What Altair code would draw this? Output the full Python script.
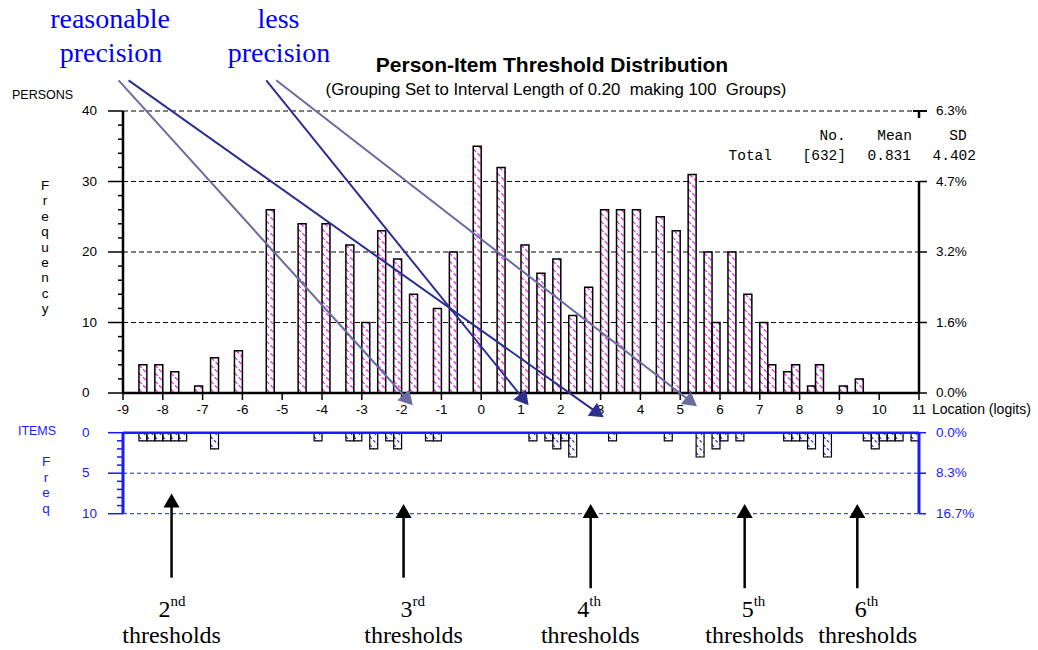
import math
import altair as alt
import numpy as np
import pandas as pd

# ---------------- data ----------------
PERSON_LOC = [-8.5, -8.1, -7.7, -7.1, -6.7, -6.1, -5.3, -4.5, -3.9, -3.3, -2.9, -2.5, -2.1, -1.7,
              -1.1, -0.7, -0.1, 0.5, 1.1, 1.5, 1.9, 2.3, 2.7, 3.1, 3.5, 3.9, 4.5, 4.9, 5.3,
              5.7, 5.9, 6.3, 6.7, 7.1, 7.3, 7.7, 7.9, 8.3, 8.5, 9.1, 9.5]
PERSON_N = [4, 4, 3, 1, 5, 6, 26, 24, 24, 21, 10, 23, 19, 14,
            12, 20, 35, 32, 21, 17, 19, 11, 15, 26, 26, 26, 25, 23, 31,
            20, 10, 20, 14, 10, 4, 3, 4, 1, 4, 1, 2]
ITEM_LOC = [-8.5, -8.3, -8.1, -7.9, -7.7, -7.5, -6.7, -4.1, -3.3, -3.1, -2.7, -2.3, -2.1, -1.3, -1.1,
            1.3, 1.7, 1.9, 2.1, 2.3, 3.3, 4.7, 5.5, 5.9, 6.1, 6.5,
            7.7, 7.9, 8.1, 8.3, 8.7, 9.7, 9.9, 10.1, 10.3, 10.5, 10.9]
ITEM_N = [1, 1, 1, 1, 1, 1, 2, 1, 1, 1, 2, 1, 2, 1, 1,
          1, 1, 2, 1, 3, 1, 1, 3, 2, 1, 1,
          1, 1, 1, 2, 3, 1, 2, 1, 1, 1, 1]
BIN_WIDTH = 0.2
N_PERSONS = 632
PERSON_MEAN = 0.831
PERSON_SD = 4.402
N_THRESHOLDS = 60

X_TICKS = list(range(-9, 12))
PERSON_MAJOR = [0, 10, 20, 30, 40]
PERSON_GRID = [10, 20, 30, 40]
PERSON_MINOR = [v for v in range(0, 41, 2) if v % 10]
RIGHT_AXIS_SEGS_A = [0, 39]
RIGHT_AXIS_SEGS_B = [30, 40]
ITEM_MAJOR = [0, 5, 10]
ITEM_GRID = [5, 10]
ITEM_MINOR = [1, 2, 3, 4, 6, 7, 8, 9]

# slanted annotation arrows (logits, person counts)
ARROW_X0 = [-9.11, -8.86, -5.40, -5.15]
ARROW_Y0 = [44.35, 44.35, 44.35, 44.35]
ARROW_X1 = [-1.72, 3.08, 1.19, 5.42]
ARROW_Y1 = [-1.74, -3.45, -1.74, -1.89]
ARROW_TONE = ["light", "dark", "dark", "light"]

# threshold arrows (logits, item frequency units)
THR_ARROW_X = [-7.78, -1.95, 2.75, 6.62, 9.45]
THR_ARROW_TIP = [7.5, 8.8, 8.8, 8.8, 8.8]
THR_ARROW_BASE = [17.9, 17.9, 19.2, 19.2, 19.2]
THR_LABEL_X = [-7.78, -1.70, 2.74, 6.87, 9.71]
THR_NUM = ["2", "3", "4", "5", "6"]
THR_SUF = ["nd", "rd", "th", "th", "th"]

# ---------------- layout ----------------
W, H = 796, 282
PAD_L, PAD_T = 123, 111
PAD_R = 1038 - PAD_L - W
PAD_B = 650 - PAD_T - H
X_MIN, X_MAX = -9, 11
Y_MAX = 40
PX_LOGIT = W / (X_MAX - X_MIN)
PX_COUNT = H / Y_MAX
ITEM_ZERO_PX = 321.7
PX_ITEM = 8.1
I_D0 = -ITEM_ZERO_PX / PX_ITEM
I_D1 = I_D0 + H / PX_ITEM
HEAD = 14.0

SANS = "Liberation Sans, Arial, sans-serif"
SERIF = "Liberation Serif, Times New Roman, serif"
MONO = "Liberation Mono, Courier New, monospace"
BLUE = "#1a1aff"
PINK = "#ff22ff"
DARK = "#2d2f8f"
LIGHT = "#6b6b9f"
TRI = "M0,0L1.15,2L-1.15,2Z"
NB = "\u00a0"

xs = alt.Scale(domain=[X_MIN, X_MAX], nice=False, zero=False)
yp = alt.Scale(domain=[0, Y_MAX], nice=False, zero=False)
yi = alt.Scale(domain=[I_D0, I_D1], reverse=True, nice=False, zero=False)


def X(f):
    return alt.X(f, type="quantitative", scale=xs, axis=None)


def YP(f):
    return alt.Y(f, type="quantitative", scale=yp, axis=None)


def YI(f):
    return alt.Y(f, type="quantitative", scale=yi, axis=None)


def one():
    return alt.Data(values=[{"k": 0}])


def txt(text, x, y, size=13.5, align="left", baseline="alphabetic", color="black",
        font=SANS, weight="normal", **kw):
    return alt.Chart(alt.Data(values=[{"t": text}])).mark_text(
        align=align, baseline=baseline, fontSize=size, font=font, color=color,
        fontWeight=weight, **kw
    ).encode(x=alt.value(x), y=alt.value(y), text="t:N")


def hatch(locs, counts, s, step, up):
    rows = []
    for loc, n in zip(locs, counts):
        lo = loc - BIN_WIDTH / 2
        if up:
            for c in np.arange(step / 2, n + s, step):
                t0 = max(0.0, (c - n) / s)
                t1 = min(1.0, c / s)
                if t1 - t0 > 1e-6:
                    rows.append(dict(x0=lo + t0 * BIN_WIDTH, y0=c - t0 * s,
                                     x1=lo + t1 * BIN_WIDTH, y1=c - t1 * s))
        else:
            for c in np.arange(-s + step / 2, n, step):
                t0 = max(0.0, -c / s)
                t1 = min(1.0, (n - c) / s)
                if t1 - t0 > 1e-6:
                    rows.append(dict(x0=lo + t0 * BIN_WIDTH, y0=c + t0 * s,
                                     x1=lo + t1 * BIN_WIDTH, y1=c + t1 * s))
    return pd.DataFrame(rows)


# ---------------- persons panel ----------------
pdf = pd.DataFrame({"loc": PERSON_LOC, "n": PERSON_N})
pdf["lo"] = pdf["loc"] - BIN_WIDTH / 2
pdf["hi"] = pdf["loc"] + BIN_WIDTH / 2
p_hatch = hatch(PERSON_LOC, PERSON_N, 8 / PX_COUNT, 8 / PX_COUNT, True)

grid = alt.Chart(pd.DataFrame({"v": PERSON_GRID})).mark_rule(
    color="black", strokeWidth=1, strokeDash=[5, 3]).encode(
    y=YP("v"), x=alt.value(0), x2=alt.value(W))
pmaj = alt.Chart(pd.DataFrame({"v": PERSON_MAJOR})).mark_rule(
    color="black", strokeWidth=1.5).encode(y=YP("v"), x=alt.value(-15), x2=alt.value(0))
pmin = alt.Chart(pd.DataFrame({"v": PERSON_MINOR})).mark_rule(
    color="black", strokeWidth=1.5).encode(y=YP("v"), x=alt.value(-5), x2=alt.value(0))
paxis = alt.Chart(pd.DataFrame({"a": [0], "b": [Y_MAX]})).mark_rule(
    color="black", strokeWidth=2.5).encode(x=alt.value(0), y=YP("a"), y2="b:Q")
raxis = alt.Chart(pd.DataFrame({"a": RIGHT_AXIS_SEGS_A, "b": RIGHT_AXIS_SEGS_B})).mark_rule(
    color="black", strokeWidth=2.5).encode(x=alt.value(W), y=YP("a"), y2="b:Q")
rtick = alt.Chart(pd.DataFrame({"v": PERSON_MAJOR})).mark_rule(
    color="black", strokeWidth=1.5).encode(y=YP("v"), x=alt.value(W), x2=alt.value(W + 8))
rtop = alt.Chart(pd.DataFrame({"v": [Y_MAX]})).mark_rule(
    color="black", strokeWidth=2).encode(y=YP("v"), x=alt.value(W - 6), x2=alt.value(W + 8))
llab = alt.Chart(pd.DataFrame({"v": PERSON_MAJOR, "lab": [str(v) for v in PERSON_MAJOR]})).mark_text(
    align="left", baseline="middle", fontSize=13.5, font=SANS, color="black").encode(
    y=YP("v"), x=alt.value(-41), text="lab:N")
rlab = alt.Chart(pd.DataFrame({"v": PERSON_MAJOR,
                               "lab": [f"{v / N_PERSONS * 100:.1f}%" for v in PERSON_MAJOR]})).mark_text(
    align="left", baseline="middle", fontSize=13.5, font=SANS, color="black").encode(
    y=YP("v"), x=alt.value(W + 17), text="lab:N")

p_fill = alt.Chart(pdf).mark_rect(fill="white").encode(
    x=X("lo"), x2="hi:Q", y=YP("n"), y2=alt.datum(0))
p_hl = alt.Chart(p_hatch).mark_rule(color=PINK, strokeWidth=1.3, strokeDash=[4, 2]).encode(
    x=X("x0"), x2="x1:Q", y=YP("y0"), y2="y1:Q")
p_out = alt.Chart(pdf).mark_rect(fill="white", fillOpacity=0, stroke="black", strokeWidth=1.5).encode(
    x=X("lo"), x2="hi:Q", y=YP("n"), y2=alt.datum(0))

xline = alt.Chart(one()).mark_rule(color="black", strokeWidth=2.5).encode(
    x=alt.value(0), x2=alt.value(W), y=alt.value(H))
xtick = alt.Chart(pd.DataFrame({"v": X_TICKS})).mark_rule(color="black", strokeWidth=1.5).encode(
    x=X("v"), y=alt.value(H), y2=alt.value(H + 7))
xlab = alt.Chart(pd.DataFrame({"v": X_TICKS, "lab": [str(v) for v in X_TICKS]})).mark_text(
    align="center", baseline="middle", fontSize=13.5, font=SANS, color="black").encode(
    x=X("v"), y=alt.value(H + 17), text="lab:N")

# slanted arrows
adf = pd.DataFrame({"x0": ARROW_X0, "y0": ARROW_Y0, "x1": ARROW_X1, "y1": ARROW_Y1, "tone": ARROW_TONE})
dxp = (adf["x1"] - adf["x0"]) * PX_LOGIT
dyp = -(adf["y1"] - adf["y0"]) * PX_COUNT
ln = np.sqrt(dxp ** 2 + dyp ** 2)
ux, uy = dxp / ln, dyp / ln
adf["xe"] = adf["x1"] - ux * HEAD * 0.7 / PX_LOGIT
adf["ye"] = adf["y1"] + uy * HEAD * 0.7 / PX_COUNT
adf["ang"] = [(math.degrees(math.atan2(a, -b)) + 360) % 360 for a, b in zip(ux, uy)]
tone_scale = alt.Scale(domain=["dark", "light"], range=[DARK, LIGHT])
a_line = alt.Chart(adf).mark_rule(strokeWidth=2).encode(
    x=X("x0"), x2="xe:Q", y=YP("y0"), y2="ye:Q",
    color=alt.Color("tone:N", scale=tone_scale, legend=None))
a_head = alt.Chart(adf).mark_point(shape=TRI, filled=True, size=196, opacity=1).encode(
    x=X("x1"), y=YP("y1"), angle=alt.Angle("ang:Q", scale=None),
    color=alt.Color("tone:N", scale=tone_scale, legend=None))

persons = alt.layer(grid, pmaj, pmin, p_fill, p_hl, p_out, paxis, raxis, rtick, rtop,
                    xline, xtick, xlab, llab, rlab, a_line, a_head)

# ---------------- items panel ----------------
idf = pd.DataFrame({"loc": ITEM_LOC, "n": ITEM_N})
idf["lo"] = idf["loc"] - BIN_WIDTH / 2
idf["hi"] = idf["loc"] + BIN_WIDTH / 2
i_hatch = hatch(ITEM_LOC, ITEM_N, 8 / PX_ITEM, 8 / PX_ITEM, False)

igrid = alt.Chart(pd.DataFrame({"v": ITEM_GRID})).mark_rule(
    color=BLUE, strokeWidth=1, strokeDash=[4, 3]).encode(y=YI("v"), x=alt.value(0), x2=alt.value(W))
imaj = alt.Chart(pd.DataFrame({"v": ITEM_MAJOR})).mark_rule(color=BLUE, strokeWidth=1.5).encode(
    y=YI("v"), x=alt.value(-15), x2=alt.value(0))
imin = alt.Chart(pd.DataFrame({"v": ITEM_MINOR})).mark_rule(color=BLUE, strokeWidth=1.5).encode(
    y=YI("v"), x=alt.value(-6), x2=alt.value(0))
i_fill = alt.Chart(idf).mark_rect(fill="white").encode(
    x=X("lo"), x2="hi:Q", y=YI("n"), y2=alt.datum(0))
i_hl = alt.Chart(i_hatch).mark_rule(color="#2a2aff", strokeWidth=1.2, strokeDash=[3, 2]).encode(
    x=X("x0"), x2="x1:Q", y=YI("y0"), y2="y1:Q")
i_out = alt.Chart(idf).mark_rect(fill="white", fillOpacity=0, stroke="black", strokeWidth=1.2).encode(
    x=X("lo"), x2="hi:Q", y=YI("n"), y2=alt.datum(0))
itop = alt.Chart(pd.DataFrame({"v": [0]})).mark_rule(color=BLUE, strokeWidth=2.5).encode(
    y=YI("v"), x=alt.value(0), x2=alt.value(W))
iaxis = alt.Chart(pd.DataFrame({"a": [0], "b": [10]})).mark_rule(color=BLUE, strokeWidth=3).encode(
    x=alt.value(0), y=YI("a"), y2="b:Q")
iraxis = alt.Chart(pd.DataFrame({"a": [0], "b": [10]})).mark_rule(color=BLUE, strokeWidth=3).encode(
    x=alt.value(W), y=YI("a"), y2="b:Q")
irtick = alt.Chart(pd.DataFrame({"v": ITEM_MAJOR})).mark_rule(color=BLUE, strokeWidth=1.5).encode(
    y=YI("v"), x=alt.value(W), x2=alt.value(W + 7))
illab = alt.Chart(pd.DataFrame({"v": ITEM_MAJOR, "lab": [str(v) for v in ITEM_MAJOR]})).mark_text(
    align="left", baseline="middle", fontSize=13.5, font=SANS, color=BLUE).encode(
    y=YI("v"), x=alt.value(-41), text="lab:N")
irlab = alt.Chart(pd.DataFrame({"v": ITEM_MAJOR,
                                "lab": [f"{v / N_THRESHOLDS * 100:.1f}%" for v in ITEM_MAJOR]})).mark_text(
    align="left", baseline="middle", fontSize=13.5, font=SANS, color=BLUE).encode(
    y=YI("v"), x=alt.value(W + 17), text="lab:N")

tdf = pd.DataFrame({"x": THR_ARROW_X, "tip": THR_ARROW_TIP, "base": THR_ARROW_BASE})
tdf["neck"] = tdf["tip"] + HEAD * 0.7 / PX_ITEM
t_line = alt.Chart(tdf).mark_rule(color="black", strokeWidth=2.5).encode(
    x=X("x"), y=YI("base"), y2="neck:Q")
t_head = alt.Chart(tdf).mark_point(shape=TRI, filled=True, size=196, opacity=1, color="black").encode(
    x=X("x"), y=YI("tip"))

items = alt.layer(igrid, imaj, imin, i_fill, i_hl, i_out, itop, iaxis, iraxis, irtick,
                  illab, irlab, t_line, t_head)

# ---------------- threshold labels ----------------
ldf = pd.DataFrame({"x": THR_LABEL_X, "num": THR_NUM, "suf": THR_SUF})
l_num = alt.Chart(ldf).mark_text(align="right", baseline="alphabetic", fontSize=24, font=SERIF,
                                 color="black", dx=-1).encode(x=X("x"), y=alt.value(506), text="num:N")
l_suf = alt.Chart(ldf).mark_text(align="left", baseline="alphabetic", fontSize=15, font=SERIF,
                                 color="black", dx=-1).encode(x=X("x"), y=alt.value(495), text="suf:N")
l_thr = alt.Chart(ldf).mark_text(align="center", baseline="alphabetic", fontSize=24, font=SERIF,
                                 color="black").encode(x=X("x"), y=alt.value(532), text=alt.value("thresholds"))

# ---------------- free texts ----------------
subtitle = f"(Grouping Set to Interval Length of 0.20 {NB}making 100 {NB}Groups)"
texts = [
    txt("Person-Item Threshold Distribution", 429, -39, size=21, align="center", weight="bold"),
    txt(subtitle, 433, -16, size=16.8, align="center"),
    txt("PERSONS", -111, -12, size=12.5),
    txt("F\nr\ne\nq\nu\ne\nn\nc\ny", -78, 68, size=13.5, align="center", baseline="top",
        lineBreak="\n", lineHeight=15.4),
    txt("Location (logits)", W + 13, H + 17, size=14, baseline="middle"),
    txt("ITEMS", -86, 320, size=12.5, align="center", baseline="middle", color=BLUE),
    txt("F\nr\ne\nq", -77, 344, size=13.5, align="center", baseline="top", color=BLUE,
        lineBreak="\n", lineHeight=15.5),
    txt("No.", 722.7, 29, size=14.5, align="right", font=MONO),
    txt("Mean", 789, 29, size=14.5, align="right", font=MONO),
    txt("SD", 843.7, 29, size=14.5, align="right", font=MONO),
    txt("Total", 605.5, 49, size=14.5, align="left", font=MONO),
    txt(f"[{N_PERSONS}]", 723, 49, size=14.5, align="right", font=MONO),
    txt(f"{PERSON_MEAN:.3f}", 788, 49, size=14.5, align="right", font=MONO),
    txt(f"{PERSON_SD:.3f}", 853, 49, size=14.5, align="right", font=MONO),
    txt("reasonable", -13, -83, size=28, align="center", font=SERIF, color="#0000ff"),
    txt("precision", -12, -49, size=28, align="center", font=SERIF, color="#0000ff"),
    txt("less", 155.5, -83, size=28, align="center", font=SERIF, color="#0000ff"),
    txt("precision", 156, -49, size=28, align="center", font=SERIF, color="#0000ff"),
]

chart = alt.layer(persons, items, l_num, l_suf, l_thr, *texts).resolve_scale(
    y="independent"
).properties(
    width=W, height=H,
    padding={"left": PAD_L, "top": PAD_T, "right": PAD_R, "bottom": PAD_B},
    autosize=alt.AutoSizeParams(type="none"),
    background="white",
).configure_view(strokeWidth=0)

chart.save("out.html", embed_options={"renderer": "svg", "actions": False})
